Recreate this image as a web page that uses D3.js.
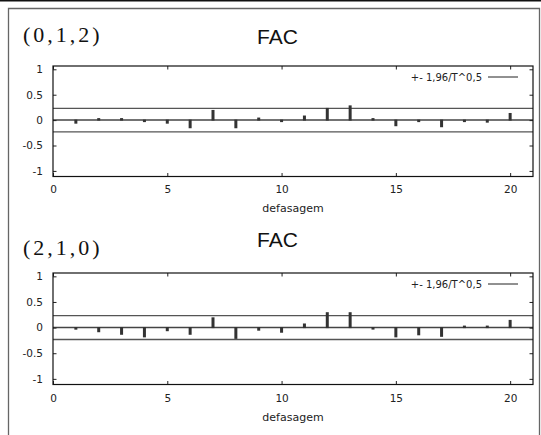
<!DOCTYPE html>
<html><head><meta charset="utf-8">
<script src="https://cdn.jsdelivr.net/npm/d3@7"></script>
<style>
html,body{margin:0;padding:0;background:#fff;}
svg{display:block;}
</style></head>
<body>
<svg id="c" width="541" height="435"></svg>
<script>
const lags = [1,2,3,4,5,6,7,8,9,10,11,12,13,14,15,16,17,18,19,20];
const fac012 = [-0.08, 0.01, 0.02, -0.01, -0.08, -0.17, 0.21, -0.17, 0.06, -0.03, 0.10, 0.25, 0.30, 0.01, -0.13, -0.03, -0.15, -0.03, -0.06, 0.15];
const fac210 = [-0.05, -0.10, -0.15, -0.20, -0.08, -0.15, 0.21, -0.23, -0.07, -0.11, 0.09, 0.31, 0.31, -0.02, -0.20, -0.16, -0.19, 0.01, 0.01, 0.16];
const xTicks = [0,5,10,15,20];
const yTicks = [-1,-0.5,0,0.5,1];
const yTickLabels = ["-1","-0.5","0","0.5","1"];
const band = 0.232;
const modelLabels = ["(0,1,2)", "(2,1,0)"];
const panelTitle = "FAC";
const xLabel = "defasagem";
const legendLabel = "+- 1,96/T^0,5";

const svg = d3.select("#c");
// outer decorations
svg.append("line").attr("x1",0).attr("x2",541).attr("y1",0.8).attr("y2",0.8)
  .attr("stroke","#111").attr("stroke-width",1.6);
svg.append("path").attr("d","M8.5,436 V8.5 H539.5 V436")
  .attr("fill","none").attr("stroke","#666").attr("stroke-width",1.3);

const x = d3.scaleLinear().domain([0,21]).range([53,533]);

const panels = [
  {data: fac012, label: modelLabels[0], top: 66, bottom: 176.5, labelY: 42, facY: 43.5, tickY: 193, xlabY: 212},
  {data: fac210, label: modelLabels[1], top: 273, bottom: 384.5, labelY: 255, facY: 247, tickY: 402, xlabY: 421}
];

panels.forEach(p => {
  const g = svg.append("g");
  const y = d3.scaleLinear().domain([-1.11, 1.065]).range([p.bottom, p.top]);

  g.append("text").attr("x",23).attr("y",p.labelY)
    .attr("font-family","'Liberation Serif','Times New Roman',serif").attr("font-size",22)
    .attr("letter-spacing",3).attr("fill","#111").text(p.label);
  g.append("text").attr("x",257).attr("y",p.facY)
    .attr("font-family","'Liberation Sans',Arial,sans-serif").attr("font-size",21)
    .attr("fill","#111").text(panelTitle);

  // band and zero lines
  [band, -band].forEach(v => {
    g.append("line").attr("x1",x(0)).attr("x2",x(21)).attr("y1",y(v)).attr("y2",y(v))
      .attr("stroke","#555").attr("stroke-width",1.3);
  });
  g.append("line").attr("x1",x(0)).attr("x2",x(21)).attr("y1",y(0)).attr("y2",y(0))
    .attr("stroke","#444").attr("stroke-width",1.5);

  // bars
  g.selectAll("rect.bar").data(lags).enter().append("rect")
    .attr("class","bar")
    .attr("x", d => x(d) - 1.5)
    .attr("width", 3)
    .attr("y", (d,i) => {
      const v = p.data[i];
      const h = Math.max(Math.abs(y(v) - y(0)), 2.5);
      return v >= 0 ? y(0) - h + 0.5 : y(0) - 0.5;
    })
    .attr("height", (d,i) => Math.max(Math.abs(y(p.data[i]) - y(0)), 2.5))
    .attr("fill","#333");

  // axes (inside ticks, gnuplot style)
  const tickFont = "'DejaVu Sans',Verdana,sans-serif";
  const axB = d3.axisBottom(x).tickValues(xTicks).tickSize(-3.5).tickPadding(9).tickFormat(d3.format("d"));
  const axT = d3.axisTop(x).tickValues(xTicks).tickSize(-3.5).tickFormat("");
  const axL = d3.axisLeft(y).tickValues(yTicks).tickSize(-3.5).tickPadding(10)
    .tickFormat((d,i) => yTickLabels[yTicks.indexOf(d)]);
  const axR = d3.axisRight(y).tickValues(yTicks).tickSize(-3.5).tickFormat("");

  const gb = g.append("g").attr("transform",`translate(0,${p.bottom})`).call(axB);
  const gt = g.append("g").attr("transform",`translate(0,${p.top})`).call(axT);
  const gl = g.append("g").attr("transform",`translate(${x(0)},0)`).call(axL);
  const gr = g.append("g").attr("transform",`translate(${x(21)},0)`).call(axR);
  [gb,gt,gl,gr].forEach(a => {
    a.select(".domain").remove();
    a.selectAll(".tick line").attr("stroke","#222").attr("stroke-width",1);
    a.selectAll("text").attr("font-family",tickFont).attr("font-size",10.5).attr("fill","#222");
  });
  gb.selectAll("text").attr("dy",null).attr("y",null)
    .attr("transform",`translate(0,${p.tickY - p.bottom})`);

  // frame
  g.append("rect").attr("x",x(0)).attr("y",p.top).attr("width",x(21)-x(0)).attr("height",p.bottom-p.top)
    .attr("fill","none").attr("stroke","#111").attr("stroke-width",1.2);

  // legend
  g.append("text").attr("x",482).attr("y",p.top+14.5).attr("text-anchor","end")
    .attr("font-family",tickFont).attr("font-size",10).attr("fill","#222").text(legendLabel);
  g.append("line").attr("x1",488).attr("x2",518).attr("y1",p.top+11).attr("y2",p.top+11)
    .attr("stroke","#222").attr("stroke-width",1);

  // x label
  g.append("text").attr("x",(x(0)+x(21))/2).attr("y",p.xlabY).attr("text-anchor","middle")
    .attr("font-family",tickFont).attr("font-size",11).attr("fill","#222").text(xLabel);
});
</script>
</body></html>
